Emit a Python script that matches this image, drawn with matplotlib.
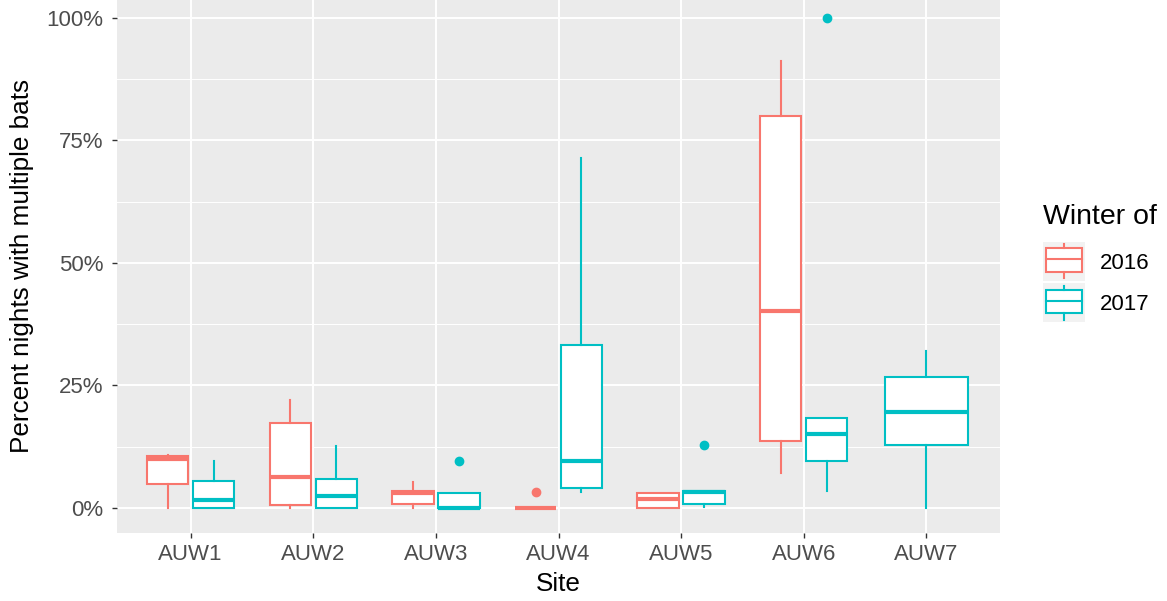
import matplotlib.pyplot as plt
from matplotlib.patches import Rectangle

plt.rcParams['font.family'] = ['Liberation Sans', 'DejaVu Sans']

# data (percent)
sites = ['AUW1', 'AUW2', 'AUW3', 'AUW4', 'AUW5', 'AUW6', 'AUW7']
years = ['2016', '2017']
colors = ['#F8766D', '#00BFC4']

# 2016 (no data for AUW7)
whislo_2016 = [0, 0, 0, 0, 0, 7.2, None]
q1_2016 = [4.9, 0.7, 0.8, 0, 0, 13.7, None]
med_2016 = [10.0, 6.4, 3.0, 0, 1.8, 40.3, None]
q3_2016 = [10.7, 17.3, 3.4, 0, 3.0, 79.9, None]
whishi_2016 = [10.9, 22.0, 5.4, 0, 3.0, 91.2, None]
out_2016 = [[], [], [], [3.2], [], [], []]

# 2017
whislo_2017 = [0, 0, 0, 3.2, 0.2, 3.5, 0]
q1_2017 = [0, 0, 0, 4.1, 0.8, 9.6, 12.8]
med_2017 = [1.6, 2.4, 0, 9.6, 3.2, 15.1, 19.6]
q3_2017 = [5.6, 6.0, 3.0, 33.3, 3.4, 18.4, 26.7]
whishi_2017 = [9.5, 12.7, 3.0, 71.4, 3.4, 18.4, 32.1]
out_2017 = [[], [], [9.6], [], [12.9], [100], []]

series = [
    (whislo_2016, q1_2016, med_2016, q3_2016, whishi_2016, out_2016),
    (whislo_2017, q1_2017, med_2017, q3_2017, whishi_2017, out_2017),
]

fig = plt.figure(figsize=(11.67, 6.01), dpi=100)
ax = fig.add_axes([117 / 1167, (601 - 532.5) / 601, 883 / 1167, 532.5 / 601])
ax.set_facecolor('#EBEBEB')
ax.set_axisbelow(True)

for j, (lo, q1, med, q3, hi, out) in enumerate(series):
    c = colors[j]
    stats, pos, wid = [], [], []
    for i in range(len(sites)):
        if med[i] is None:
            continue
        other = series[1 - j][2][i]
        if other is None:
            p, w = i + 1, 0.675
        else:
            p, w = i + 1 - 0.1875 + 0.375 * j, 0.3375
        stats.append(dict(whislo=lo[i], q1=q1[i], med=med[i], q3=q3[i],
                          whishi=hi[i], fliers=out[i]))
        pos.append(p)
        wid.append(w)
    ax.bxp(stats, positions=pos, widths=wid, showcaps=False, patch_artist=True,
           manage_ticks=False,
           boxprops=dict(facecolor='white', edgecolor=c, linewidth=1.5),
           medianprops=dict(color=c, linewidth=3, solid_capstyle='butt'),
           whiskerprops=dict(color=c, linewidth=1.5),
           flierprops=dict(marker='o', markerfacecolor=c, markeredgecolor=c,
                           markersize=6))

ax.set_xlim(0.4, 7.6)
ax.set_ylim(-5, 103.67)
ax.set_xticks(range(1, len(sites) + 1))
ax.set_xticklabels(sites)
ax.set_yticks([0, 25, 50, 75, 100])
ax.set_yticklabels(['0%', '25%', '50%', '75%', '100%'])
ax.set_yticks([12.5, 37.5, 62.5, 87.5], minor=True)
ax.grid(which='major', color='white', linewidth=1.4)
ax.grid(which='minor', axis='y', color='white', linewidth=0.7)
ax.tick_params(which='major', length=3.6, width=1, color='#333333',
               labelsize=16, labelcolor='#4D4D4D')
ax.tick_params(axis='x', pad=5)
ax.tick_params(axis='y', pad=6)
ax.tick_params(which='minor', length=0)
for s in ax.spines.values():
    s.set_visible(False)

ax.set_xlabel('Site', fontsize=18.8, labelpad=5)
ax.set_ylabel('Percent nights with multiple bats', fontsize=18.8, labelpad=9)

# legend
fig.text(1043 / 1167, 1 - 216.5 / 601, 'Winter of', fontsize=20.5, va='center')
for j, yr in enumerate(years):
    top = 241.7 + 41.3 * j
    kax = fig.add_axes([1043 / 1167, 1 - (top + 39.3) / 601, 42 / 1167, 39.3 / 601])
    kax.set_xlim(0, 1)
    kax.set_ylim(0, 1)
    kax.axis('off')
    kax.add_patch(Rectangle((0, 0), 1, 1, facecolor='#F2F2F2', edgecolor='none'))
    kax.plot([0.5, 0.5], [0.07, 0.24], color=colors[j], lw=1.5)
    kax.plot([0.5, 0.5], [0.83, 0.93], color=colors[j], lw=1.5)
    kax.add_patch(Rectangle((0.08, 0.24), 0.84, 0.59, facecolor='white',
                            edgecolor=colors[j], lw=1.5))
    kax.plot([0.08, 0.92], [0.55, 0.55], color=colors[j], lw=1.5)
    fig.text(1100 / 1167, 1 - (top + 21.5) / 601, yr, fontsize=16, va='center')

fig.savefig('out.png', dpi=100)
